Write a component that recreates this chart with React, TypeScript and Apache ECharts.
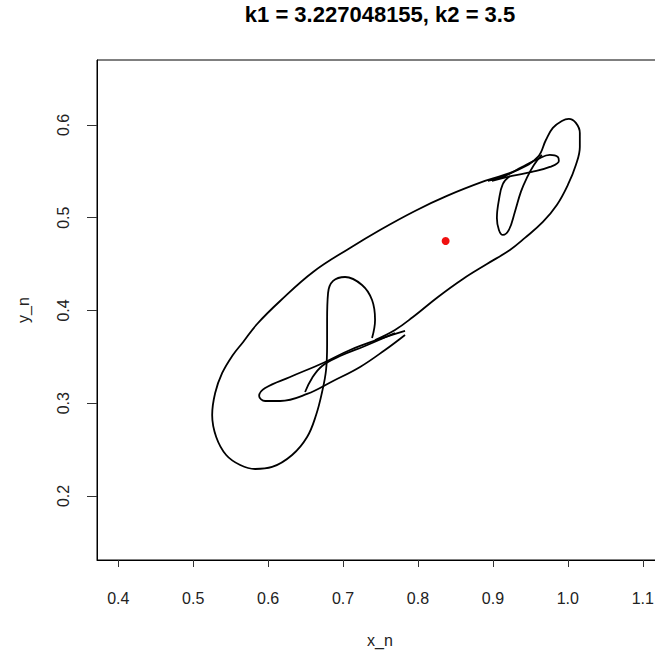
import React, { useEffect, useRef } from "react";
import * as echarts from "echarts";

const titleText = "k1 = 3.227048155, k2 = 3.5";
const xName = "x_n";
const yName = "y_n";
const xTicks = [0.4, 0.5, 0.6, 0.7, 0.8, 0.9, 1.0, 1.1];
const yTicks = [0.2, 0.3, 0.4, 0.5, 0.6];

// main strand: small lower loop, ellipse bottom, upper edge, upper-right lobe, lower edge
const mainLoop = [
  [0.7387, 0.3704], [0.7427, 0.3898], [0.7387, 0.4113], [0.7253, 0.4275], [0.7027, 0.4361],
  [0.6867, 0.4318], [0.68, 0.4189], [0.6787, 0.3898], [0.6787, 0.3628], [0.6773, 0.3358],
  [0.672, 0.3121], [0.664, 0.2873], [0.652, 0.2636], [0.632, 0.2442], [0.6053, 0.2313],
  [0.5827, 0.2291], [0.5627, 0.2334], [0.544, 0.2442], [0.5307, 0.2636], [0.5253, 0.2873],
  [0.5293, 0.3111], [0.5387, 0.3326], [0.552, 0.3509], [0.5667, 0.366], [0.5853, 0.3854],
  [0.616, 0.4102], [0.66, 0.4415], [0.7093, 0.4674], [0.7493, 0.4868], [0.796, 0.5073],
  [0.8387, 0.5235], [0.8893, 0.5396], [0.9333, 0.5515], [0.96, 0.5655], [0.9707, 0.5838],
  [0.98, 0.5968], [0.992, 0.6043], [1.0013, 0.6065], [1.0107, 0.6022], [1.016, 0.5914],
  [1.016, 0.5763], [1.0107, 0.5569], [1.0, 0.5353], [0.9853, 0.5137], [0.9667, 0.4954],
  [0.9427, 0.4782], [0.9227, 0.4652], [0.892, 0.4501], [0.86, 0.434], [0.8267, 0.4146],
  [0.7933, 0.393], [0.7693, 0.379], [0.7427, 0.3682],
];

const lowerHLoop = [
  [0.7827, 0.3779], [0.7493, 0.3693], [0.7093, 0.3574], [0.6733, 0.3434], [0.6293, 0.3283],
  [0.596, 0.3164], [0.588, 0.3078], [0.596, 0.3024], [0.616, 0.3024], [0.652, 0.31],
  [0.6867, 0.324], [0.7227, 0.3391], [0.756, 0.3574], [0.7827, 0.3736],
];

const lowerArc = [
  [0.6493, 0.3121], [0.6587, 0.3272], [0.672, 0.3402], [0.696, 0.3509], [0.7293, 0.3617],
  [0.7693, 0.3757],
];

const upperHLoop = [
  [0.8933, 0.5396], [0.916, 0.545], [0.9387, 0.5547], [0.96, 0.5633], [0.976, 0.5677],
  [0.9867, 0.5655], [0.988, 0.5612], [0.976, 0.5547], [0.952, 0.5493], [0.9253, 0.545],
  [0.8987, 0.5396],
];

const upperVLoop = [
  [0.9227, 0.545], [0.9133, 0.5364], [0.908, 0.5191], [0.9053, 0.4997], [0.908, 0.4868],
  [0.9133, 0.4814], [0.9213, 0.4868], [0.9293, 0.5062], [0.9373, 0.5278], [0.9453, 0.5429],
  [0.9547, 0.5569], [0.9653, 0.5677],
];

const fixedPoint = [[0.8369, 0.4749]];

const strands = [mainLoop, lowerHLoop, lowerArc, upperHLoop, upperVLoop];

export default function App() {
  const ref = useRef<HTMLDivElement>(null);
  useEffect(() => {
    if (!ref.current) return;
    const chart = echarts.init(ref.current, null, { renderer: "svg" });
    const fmt = (v: number) => v.toFixed(1);
    const font = "Liberation Sans, Arial, sans-serif";
    const lineSeries = strands.map((d, i) => ({
      type: "line",
      name: "strand" + i,
      data: d,
      showSymbol: false,
      smooth: 0.4,
      lineStyle: { color: "#000", width: 1.8 },
      silent: true,
      z: 2,
    }));
    chart.setOption({
      animation: false,
      backgroundColor: "#fff",
      graphic: [
        {
          type: "text",
          x: 380,
          y: 14,
          style: {
            text: titleText,
            fontSize: 22,
            fontWeight: "bold",
            fill: "#000",
            fontFamily: font,
            textAlign: "center",
            textVerticalAlign: "middle",
          },
        },
        {
          type: "text",
          x: 380,
          y: 640,
          style: {
            text: xName,
            fontSize: 16,
            fill: "#222",
            fontFamily: font,
            textAlign: "center",
            textVerticalAlign: "middle",
          },
        },
        {
          type: "text",
          x: 23,
          y: 310,
          rotation: Math.PI / 2,
          style: {
            text: yName,
            fontSize: 16,
            fill: "#222",
            fontFamily: font,
            textAlign: "center",
            textVerticalAlign: "middle",
          },
        },
      ],
      grid: {
        left: 97,
        top: 60,
        width: 566,
        height: 500,
        show: true,
        borderColor: "#000",
        borderWidth: 1,
        backgroundColor: "transparent",
        containLabel: false,
        outerBoundsMode: "none",
      },
      xAxis: {
        type: "value",
        min: 0.3716,
        max: 1.127,
        axisLine: { show: true, onZero: false, lineStyle: { color: "#000", width: 1 } },
        axisTick: { show: true, inside: false, length: 7, customValues: xTicks, lineStyle: { color: "#333" } },
        axisLabel: {
          customValues: xTicks,
          formatter: fmt,
          margin: 30,
          fontSize: 16,
          color: "#222",
          fontFamily: font,
          hideOverlap: false,
        },
        splitLine: { show: false },
      },
      yAxis: {
        type: "value",
        min: 0.131,
        max: 0.67,
        axisLine: { show: true, onZero: false, lineStyle: { color: "#000", width: 1 } },
        axisTick: { show: true, inside: false, length: 10, customValues: yTicks, lineStyle: { color: "#333" } },
        axisLabel: {
          customValues: yTicks,
          formatter: fmt,
          rotate: 90,
          margin: 26,
          fontSize: 16,
          color: "#222",
          fontFamily: font,
        },
        splitLine: { show: false },
      },
      series: [
        ...lineSeries,
        {
          type: "scatter",
          name: "fixed point",
          data: fixedPoint,
          symbol: "circle",
          symbolSize: 8,
          itemStyle: { color: "#f01010", opacity: 1 },
          silent: true,
          z: 3,
        },
      ],
    });
    return () => chart.dispose();
  }, []);
  return (
    <div
      ref={ref}
      style={{ position: "fixed", left: 0, top: 0, width: 655, height: 653 }}
    />
  );
}
